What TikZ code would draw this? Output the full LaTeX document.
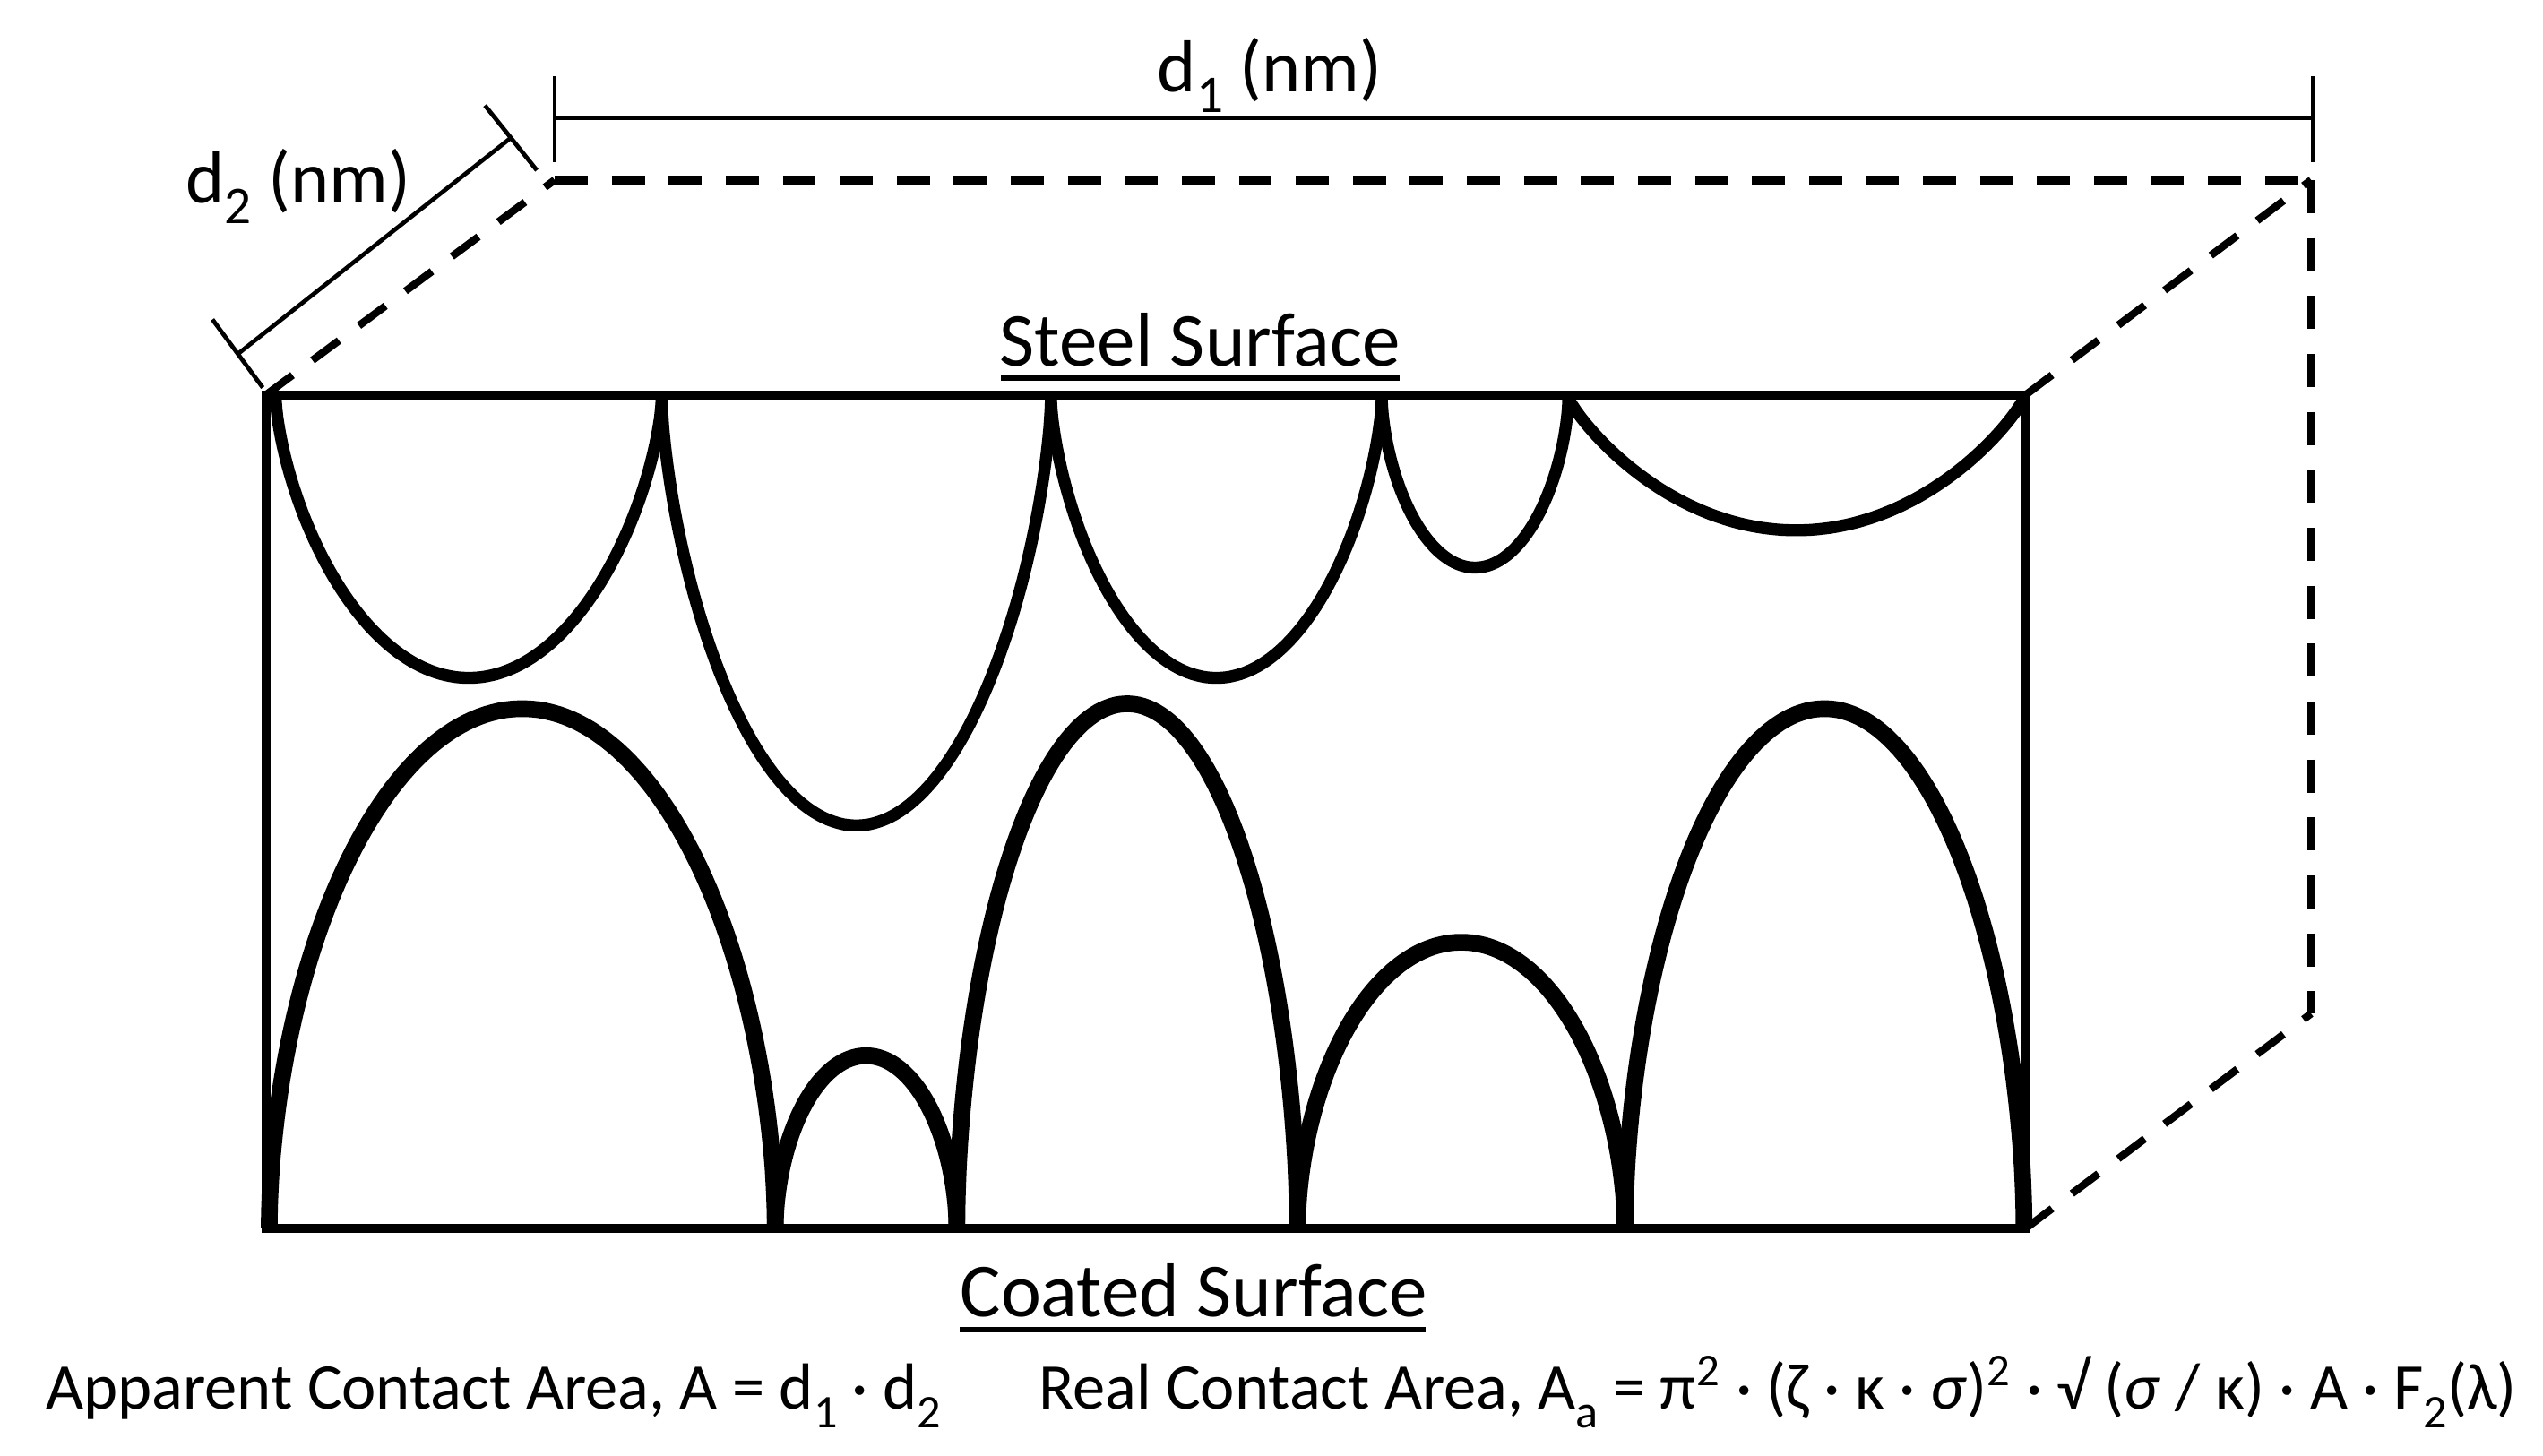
\documentclass[tikz,border=0pt]{standalone}
\usepackage{fontspec}
\setmainfont{Carlito}
\newcommand{\archcurve}[6]{% style, x1, x2, base y, apex y, exponent
  \pgfmathsetmacro{\xmid}{(#2+#3)/2}
  \pgfmathsetmacro{\xrad}{(#3-#2)/2}
  \draw[#1] plot[domain=0:180,samples=120] ({\xmid-\xrad*cos(\x)},{#4+(#5-#4)*pow(abs(sin(\x))+0.0001,#6)});
}
\newcommand{\lowsub}[1]{\raisebox{-0.28em}{\scalebox{0.72}{#1}}}
\tikzset{
  x=0.0181cm,y=-0.0181cm,
  boxline/.style={line width=2.9pt,line join=miter},
  upcurve/.style={line width=3.8pt},
  lowcurve/.style={line width=5.3pt},
  dashh/.style={line width=2.85pt,dash pattern=on 10.5pt off 7.6pt},
  dashd/.style={line width=2.4pt,dash pattern=on 10.5pt off 7.9pt},
  dimline/.style={line width=1.35pt},
  ulabel/.style={inner sep=0pt,font=\fontsize{24.2}{28}\selectfont},
  dimlabel/.style={inner sep=0pt,font=\fontsize{23.4}{27}\selectfont},
  eqlabel/.style={inner sep=0pt,anchor=base west,font=\fontsize{20.65}{24}\selectfont},
  rule/.style={line width=1.9pt}
}
\begin{document}
\begin{tikzpicture}
\useasboundingbox (0,0) rectangle (1568,897.8);
% corners
\coordinate (fTL) at (164,243.5);
\coordinate (fTR) at (1249,243.5);
\coordinate (fBR) at (1249,757.5);
\coordinate (fBL) at (164,757.5);
\coordinate (bTL) at (342,111);
\coordinate (bTR) at (1425,111);
\coordinate (bBR) at (1425,625);
% hidden edges
\draw[dashd] (fTL) -- (bTL);
\draw[dashh] (bTL) -- (bTR);
\draw[dashd] (bTR) -- (bBR);
\draw[dashd] (fTR) -- (bTR);
\draw[dashd] (fBR) -- (bBR);
% front box
\draw[boxline] (fTL) -- (fTR) -- (fBR) -- (fBL) -- cycle;
% upper curves
\archcurve{upcurve}{170}{408}{245}{418}{1.32}
\archcurve{upcurve}{408}{648}{245}{509}{1.3}
\archcurve{upcurve}{648}{852}{245}{418}{1.3}
\archcurve{upcurve}{852}{967}{245}{350}{1.2}
\archcurve{upcurve}{967}{1248}{245}{327}{1.7}
% lower curves
\archcurve{lowcurve}{166}{478}{757}{437}{1.08}
\archcurve{lowcurve}{478}{590}{757}{651}{1.08}
\archcurve{lowcurve}{590}{800}{757}{434}{1.08}
\archcurve{lowcurve}{800}{1002}{757}{581}{1.08}
\archcurve{lowcurve}{1002}{1248}{757}{437}{1.08}
% dimension d1
\coordinate (d1a) at (342,47);
\coordinate (d1b) at (342,100);
\coordinate (d1c) at (1426,47);
\coordinate (d1d) at (1426,100);
\coordinate (d1l) at (342,73);
\coordinate (d1r) at (1426,73);
\draw[dimline] (d1a) -- (d1b);
\draw[dimline] (d1c) -- (d1d);
\draw[dimline] (d1l) -- (d1r);
% dimension d2
\coordinate (d2a) at (131,197);
\coordinate (d2b) at (162,239);
\coordinate (d2c) at (299,65);
\coordinate (d2d) at (331,105);
\coordinate (d2l) at (147,218);
\coordinate (d2r) at (315,85);
\draw[dimline] (d2a) -- (d2b);
\draw[dimline] (d2c) -- (d2d);
\draw[dimline] (d2l) -- (d2r);
% labels
\node[dimlabel] (lblD1) at (783,46.5) {d\lowsub{1} (nm)};
\node[dimlabel] (lblD2) at (184,115) {d\lowsub{2} (nm)};
\node[ulabel] (lblSteel) at (740,209.5) {Steel Surface};
\node[ulabel] (lblCoat) at (736,795.5) {Coated Surface};
\coordinate (sA) at (617,233);
\coordinate (sB) at (863,233);
\coordinate (cA) at (592,820);
\coordinate (cB) at (879,820);
\draw[rule] (sA) -- (sB);
\draw[rule] (cA) -- (cB);
\node[eqlabel] (eqA) at (28,869) {Apparent Contact Area, A = d\lowsub{1} · d\lowsub{2}};
\node[eqlabel] (eqR) at (640,869) {Real Contact Area, A\lowsub{a} = π\textsuperscript{2} · (ζ · κ · \textit{σ})\textsuperscript{2} · √ (\textit{σ} / κ) · A · F\lowsub{2}(λ)};
\end{tikzpicture}
\end{document}
